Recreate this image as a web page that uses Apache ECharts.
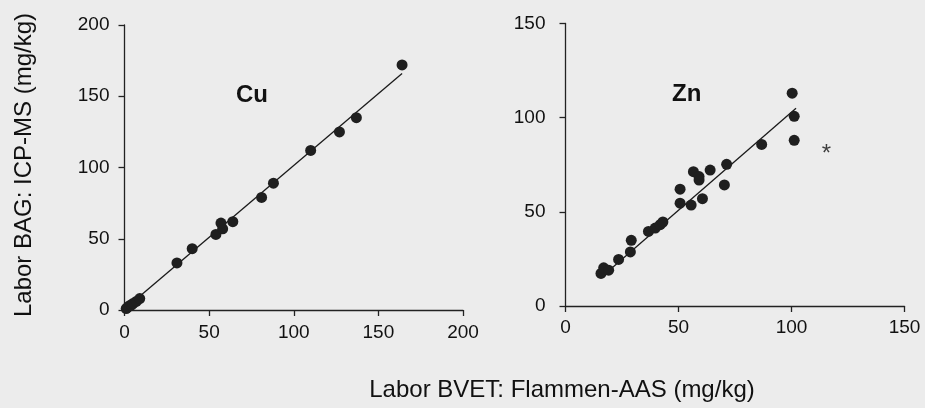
<!DOCTYPE html>
<html>
<head>
<meta charset="utf-8">
<script src="https://cdn.jsdelivr.net/npm/echarts@6/dist/echarts.min.js"></script>
<style>
html,body{margin:0;padding:0;background:#ececec;}
#c{width:925px;height:408px;}
</style>
</head>
<body>
<div id="c"></div>
<script>
// ---- data ----
const cuTicks = [0, 50, 100, 150, 200];
const znTicks = [0, 50, 100, 150];
const cuPoints = [
  [1, 1], [2, 2], [3, 3], [4, 3.5], [5, 4.5], [7, 6], [9, 8],
  [31, 33], [40, 43], [54, 53], [58, 57], [57, 61], [64, 62],
  [81, 79], [88, 89], [110, 112], [127, 125], [137, 135], [164, 172]
];
const cuFit = [[1, 1.5], [164, 166]];
const znPoints = [
  [15.7, 17.3], [16.9, 20.3], [19.1, 19], [23.5, 24.7], [28.7, 28.7], [29.1, 34.9],
  [36.7, 39.6], [39.7, 41.4], [41.9, 43.2], [43.1, 44.6],
  [50.7, 62], [50.7, 54.6], [55.6, 53.6], [60.6, 57], [56.6, 71.3], [59.1, 68.7],
  [59.1, 66.9], [64, 72.2], [71.3, 75.2], [70.3, 64.3], [86.8, 85.8],
  [100.3, 113], [101.2, 100.7], [101.2, 88]
];
const znFit = [[18, 17.5], [102, 105]];
const znOutlierMark = [[115.5, 83]];
const panelLabels = ['Cu', 'Zn'];
const yTitle = 'Labor BAG: ICP-MS (mg/kg)';
const xTitle = 'Labor BVET: Flammen-AAS (mg/kg)';

// ---- chart ----
const FONT = '"Liberation Sans", Arial, sans-serif';
const axisCol = '#222';
const txtCol = '#111';
function valAxis(ticks, grid, margin) {
  return {
    type: 'value', gridIndex: grid,
    min: ticks[0], max: ticks[ticks.length - 1], interval: ticks[1] - ticks[0],
    axisLine: { show: true, onZero: false, lineStyle: { color: axisCol, width: 1.3 } },
    axisTick: { show: true, length: 6, lineStyle: { color: axisCol, width: 1.3 } },
    axisLabel: { color: txtCol, fontSize: 19, fontFamily: FONT, margin: margin },
    splitLine: { show: false }
  };
}
const dot = { color: '#1f1f1f', opacity: 1 };
const chart = echarts.init(document.getElementById('c'));
chart.setOption({
  backgroundColor: '#ececec',
  animation: false,
  grid: [
    { left: 124.5, right: 462, top: 25, bottom: 98 },
    { left: 565.5, right: 20.5, top: 23.5, bottom: 102 }
  ],
  xAxis: [valAxis(cuTicks, 0, 13), valAxis(znTicks, 1, 12)],
  yAxis: [valAxis(cuTicks, 0, 15), valAxis(znTicks, 1, 20)],
  title: [
    { text: panelLabels[0], left: 231, top: 78, textStyle: { fontSize: 24, fontWeight: 'bold', fontFamily: FONT, color: txtCol } },
    { text: panelLabels[1], left: 667, top: 77, textStyle: { fontSize: 24, fontWeight: 'bold', fontFamily: FONT, color: txtCol } }
  ],
  graphic: [
    { type: 'text', x: 24, y: 165, rotation: Math.PI / 2,
      style: { text: yTitle, font: '24px ' + FONT, fill: txtCol, align: 'center', verticalAlign: 'middle' } },
    { type: 'text', x: 562, y: 390,
      style: { text: xTitle, font: '24px ' + FONT, fill: txtCol, align: 'center', verticalAlign: 'middle' } }
  ],
  series: [
    { type: 'line', xAxisIndex: 0, yAxisIndex: 0, data: cuFit, symbol: 'none',
      lineStyle: { color: '#1a1a1a', width: 1.3 }, z: 1 },
    { type: 'scatter', xAxisIndex: 0, yAxisIndex: 0, data: cuPoints, symbolSize: 11, itemStyle: dot, z: 2 },
    { type: 'line', xAxisIndex: 1, yAxisIndex: 1, data: znFit, symbol: 'none',
      lineStyle: { color: '#1a1a1a', width: 1.3 }, z: 1 },
    { type: 'scatter', xAxisIndex: 1, yAxisIndex: 1, data: znPoints, symbolSize: 11, itemStyle: dot, z: 2 },
    { type: 'scatter', xAxisIndex: 1, yAxisIndex: 1, data: znOutlierMark, symbolSize: 2,
      itemStyle: { color: 'rgba(0,0,0,0)' }, z: 3,
      label: { show: true, position: 'inside', formatter: '*', fontSize: 24, fontFamily: FONT, color: txtCol, offset: [0, 5] } }
  ]
});
</script>
</body>
</html>
